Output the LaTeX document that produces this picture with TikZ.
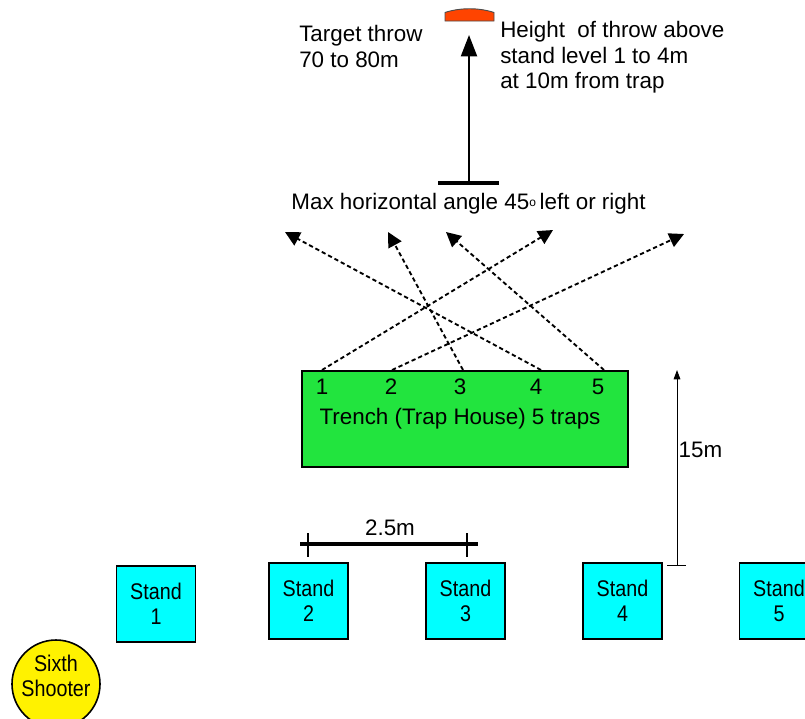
\documentclass[tikz,border=0pt]{standalone}
\usepackage{fontspec}
\setmainfont{Liberation Sans}
\newfontfamily\narrowfont[FakeStretch=0.87]{Liberation Sans}
\usepackage{tikz}
\usetikzlibrary{arrows.meta}
\definecolor{trenchgreen}{RGB}{34,228,62}
\definecolor{standcyan}{RGB}{0,255,255}
\definecolor{birdred}{RGB}{255,68,0}

\begin{document}
\begin{tikzpicture}[x=0.75pt, y=-0.75pt, font=\fontsize{16.8}{19.2}\selectfont,
    stand/.style={draw, line width=1.2pt, fill=standcyan, minimum width=59pt, minimum height=57pt, inner sep=0pt, align=center, font=\fontsize{17}{19}\narrowfont},
    flight/.style={dashed, dash pattern=on 3.2pt off 2.2pt, line width=1.4pt, -{Triangle[length=11pt,width=11pt]}}]
        \useasboundingbox (0,0) rectangle (805,718);
        \clip (0,0) rectangle (805,718);

        % Target and throw height
        \draw[fill=birdred, draw=black!70, line width=0.7pt] (445,21) -- (445,12.5) .. controls (460,7.5) and (479,7.5) .. (494,12.5) -- (494,21) -- cycle;
        \coordinate (base) at (469,183);
        \coordinate (peak) at (469,35);
        \coordinate (barL) at (438,183);
        \coordinate (barR) at (499,183);
        \draw[line width=3pt] (barL) -- (barR);
        \draw[line width=1.5pt, -{Triangle[length=16pt,width=12pt]}] (base) -- (peak);
        \node[anchor=west, align=left, inner sep=0pt] (throw) at (299,46.5) {Target throw\\70 to 80m};
        \node[anchor=west, align=left, inner sep=0pt] (height) at (500,57.5) {Height\ \ of throw above\\stand level 1 to 4m\\at 10m from trap};
        \node (angle) at (468.5,204) {Max horizontal angle 45{\fontsize{9}{9}\selectfont\raisebox{2.5pt}{o}}\,left or right};

        % Trench
        \node[draw, line width=1.2pt, fill=trenchgreen, minimum width=244.5pt, minimum height=72pt] (trench) at (465,419) {};
        \node (trap) at (460,419) {Trench (Trap House) 5 traps};
        \node (n1) at (322,387) {1};
        \node (n2) at (391,387) {2};
        \node (n3) at (460,387) {3};
        \node (n4) at (536,387) {4};
        \node (n5) at (598,387) {5};

        \coordinate (t1) at (322,370);
        \coordinate (t2) at (392,370);
        \coordinate (t3) at (463,370);
        \coordinate (t4) at (541,370);
        \coordinate (t5) at (604,370);
        \coordinate (e1) at (553,230);
        \coordinate (e2) at (684,234);
        \coordinate (e3) at (388,232);
        \coordinate (e4) at (285,232);
        \coordinate (e5) at (446,232);

        \draw[flight] (t1) -- (e1);
        \draw[flight] (t2) -- (e2);
        \draw[flight] (t3) -- (e3);
        \draw[flight] (t4) -- (e4);
        \draw[flight] (t5) -- (e5);

        % 15m distance
        \coordinate (d0) at (677,565);
        \coordinate (d1) at (677,370);
        \coordinate (dL) at (667,565);
        \coordinate (dR) at (686,565);
        \draw[line width=0.7pt] (dL) -- (dR);
        \draw[line width=0.7pt, -{Triangle[length=7pt,width=5pt]}] (d0) -- (d1);
        \node[anchor=west, inner sep=1pt] (dist) at (677,450) {15m};

        % 2.5m spacing
        \coordinate (gL) at (300,544);
        \coordinate (gR) at (478,544);
        \coordinate (g2a) at (308,533);
        \coordinate (g2b) at (308,557);
        \coordinate (g3a) at (467,533);
        \coordinate (g3b) at (467,557);
        \draw[line width=2.3pt] (gL) -- (gR);
        \draw[line width=1.1pt] (g2a) -- (g2b);
        \draw[line width=1.1pt] (g3a) -- (g3b);
        \node (gap) at (390,528) {2.5m};

        % Stands
        \node[stand] (s1) at (156,604) {Stand\\1};
        \node[stand] (s2) at (308.5,601) {Stand\\2};
        \node[stand] (s3) at (465.5,601) {Stand\\3};
        \node[stand] (s4) at (622.5,601) {Stand\\4};
        \node[stand] (s5) at (779,601) {Stand\\5};

        \node[circle, draw, line width=1.2pt, fill=yellow, minimum size=66pt, inner sep=0pt] (sixth) at (56,684) {};
        \node[align=center, font=\fontsize{17}{19}\narrowfont] (sixthlbl) at ([yshift=6pt]sixth.center) {Sixth\\Shooter};
\end{tikzpicture}
\end{document}
